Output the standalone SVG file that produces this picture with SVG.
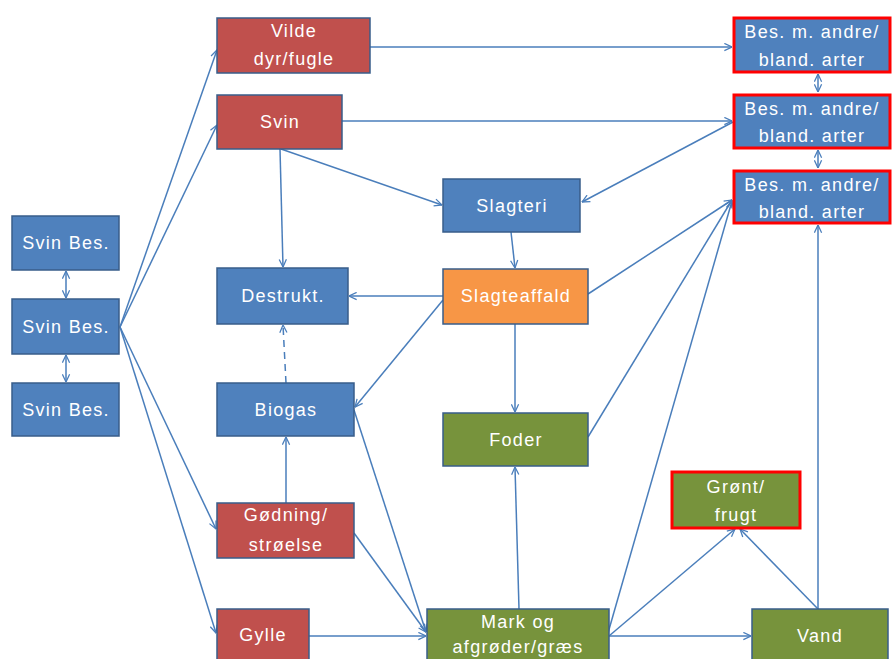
<svg xmlns="http://www.w3.org/2000/svg" width="893" height="659" viewBox="0 0 893 659">
<defs>
<marker id="ah" viewBox="0 0 10 10" refX="9.5" refY="5" markerWidth="9" markerHeight="9" markerUnits="userSpaceOnUse" orient="auto-start-reverse">
<path d="M1,1 L9.5,5 L1,9" fill="none" stroke="#4A7EBB" stroke-width="1.4"/>
</marker>
</defs>
<style>
.b{fill:#4F81BD;stroke:#385D8A;stroke-width:1.5}
.r{fill:#C0504D;stroke:#385D8A;stroke-width:1.5}
.o{fill:#F79646;stroke:#385D8A;stroke-width:1.5}
.g{fill:#77933C;stroke:#385D8A;stroke-width:1.5}
.rb{fill:#4F81BD;stroke:#FF0000;stroke-width:3}
.rg{fill:#77933C;stroke:#FF0000;stroke-width:3}
text{font-family:"Liberation Sans",Arial,sans-serif;font-size:18px;fill:#FFFFFF;text-anchor:middle;letter-spacing:1.3px}
.c line,.c path{stroke:#4A7EBB;stroke-width:1.5;fill:none;marker-end:url(#ah)}
.c .d{marker-start:url(#ah)}
</style>
<rect width="893" height="659" fill="#FFFFFF"/>
<g class="c" id="connectors">
<line class="d" x1="66" y1="271" x2="66" y2="298"/>
<line class="d" x1="66" y1="355" x2="66" y2="382"/>
<line x1="120" y1="327" x2="217" y2="50"/>
<line x1="120" y1="327" x2="217" y2="125"/>
<line x1="120" y1="327" x2="216" y2="529"/>
<line x1="120" y1="327" x2="216" y2="633"/>
<line x1="370" y1="47" x2="732" y2="47"/>
<line x1="342" y1="121" x2="732" y2="121"/>
<line x1="280" y1="149" x2="283" y2="267"/>
<line x1="281" y1="149" x2="442" y2="205"/>
<line x1="733" y1="122" x2="582" y2="202"/>
<line x1="511" y1="232" x2="515" y2="268"/>
<line x1="443" y1="296" x2="349" y2="296"/>
<line x1="443" y1="300" x2="355" y2="407"/>
<line x1="286" y1="383" x2="283" y2="325" stroke-dasharray="7,5"/>
<line x1="286" y1="503" x2="286" y2="437"/>
<line x1="515" y1="324" x2="515" y2="412"/>
<line x1="588" y1="294" x2="732" y2="200"/>
<line x1="588" y1="437" x2="732" y2="200"/>
<line x1="608" y1="633" x2="732" y2="201"/>
<line x1="354" y1="410" x2="426" y2="632"/>
<line x1="354" y1="533" x2="426" y2="632"/>
<line x1="309" y1="636" x2="426" y2="636"/>
<line x1="519" y1="609" x2="515" y2="467"/>
<line x1="609" y1="636" x2="751" y2="636"/>
<line x1="609" y1="636" x2="735" y2="529"/>
<line x1="818" y1="609" x2="740" y2="529"/>
<line x1="818" y1="609" x2="818" y2="225"/>
<line class="d" x1="818" y1="74" x2="818" y2="92"/>
<line class="d" x1="818" y1="150" x2="818" y2="168"/>
</g>
<g id="svinbes1"><rect class="b" x="12" y="216" width="107" height="54"/><text x="66" y="249">Svin Bes.</text></g>
<g id="svinbes2"><rect class="b" x="12" y="299" width="107" height="55"/><text x="66" y="333">Svin Bes.</text></g>
<g id="svinbes3"><rect class="b" x="12" y="383" width="107" height="53"/><text x="66" y="416">Svin Bes.</text></g>
<g id="vilde"><rect class="r" x="217" y="18" width="153" height="55"/><text x="294" y="37">Vilde</text><text x="294" y="65">dyr/fugle</text></g>
<g id="svin"><rect class="r" x="217" y="95" width="125" height="54"/><text x="280" y="128">Svin</text></g>
<g id="destrukt"><rect class="b" x="217" y="268" width="131" height="56"/><text x="283" y="302">Destrukt.</text></g>
<g id="slagteri"><rect class="b" x="443" y="179" width="137" height="53"/><text x="512" y="212">Slagteri</text></g>
<g id="slagteaffald"><rect class="o" x="443" y="269" width="145" height="55"/><text x="516" y="302">Slagteaffald</text></g>
<g id="biogas"><rect class="b" x="217" y="383" width="137" height="53"/><text x="286" y="416">Biogas</text></g>
<g id="foder"><rect class="g" x="443" y="413" width="145" height="53"/><text x="516" y="446">Foder</text></g>
<g id="godning"><rect class="r" x="217" y="503" width="137" height="55"/><text x="286" y="521">Gødning/</text><text x="286" y="551">strøelse</text></g>
<g id="gylle"><rect class="r" x="217" y="609" width="92" height="56"/><text x="263" y="641">Gylle</text></g>
<g id="mark"><rect class="g" x="427" y="609" width="182" height="56"/><text x="518" y="628">Mark og</text><text x="518" y="653">afgrøder/græs</text></g>
<g id="gront"><rect class="rg" x="672" y="472" width="128" height="56"/><text x="736" y="493">Grønt/</text><text x="736" y="521">frugt</text></g>
<g id="vand"><rect class="g" x="752" y="609" width="136" height="56"/><text x="820" y="642">Vand</text></g>
<g id="bes1"><rect class="rb" x="734" y="18" width="156" height="54"/><text x="812" y="38">Bes. m. andre/</text><text x="812" y="66">bland. arter</text></g>
<g id="bes2"><rect class="rb" x="734" y="95" width="156" height="53"/><text x="812" y="115">Bes. m. andre/</text><text x="812" y="142">bland. arter</text></g>
<g id="bes3"><rect class="rb" x="734" y="171" width="156" height="52"/><text x="812" y="191">Bes. m. andre/</text><text x="812" y="218">bland. arter</text></g>
</svg>
